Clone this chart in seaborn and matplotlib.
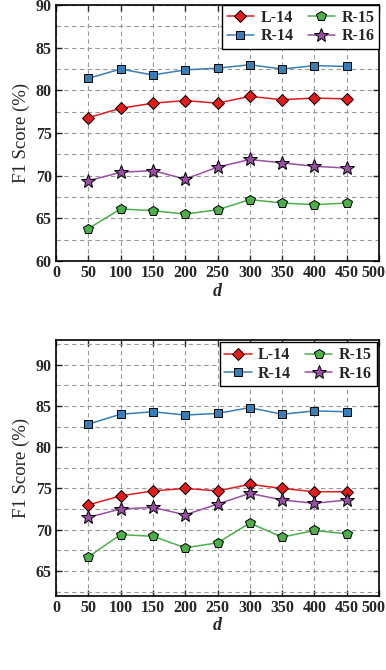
import numpy as np
import pandas as pd
import matplotlib
matplotlib.use("Agg")
import matplotlib.pyplot as plt
from matplotlib.ticker import MultipleLocator, FuncFormatter
import seaborn as sns

# data
d_values = [50, 100, 150, 200, 250, 300, 350, 400, 450]
models = ["L-14", "R-14", "R-15", "R-16"]

top_l14 = [76.8, 77.9, 78.5, 78.8, 78.5, 79.3, 78.9, 79.1, 79.0]
top_r14 = [81.4, 82.5, 81.8, 82.4, 82.6, 83.0, 82.5, 82.9, 82.8]
top_r15 = [63.8, 66.1, 65.9, 65.5, 66.0, 67.2, 66.8, 66.6, 66.8]
top_r16 = [69.4, 70.4, 70.6, 69.6, 71.0, 71.9, 71.5, 71.1, 70.9]

bot_l14 = [73.0, 74.1, 74.7, 75.0, 74.7, 75.5, 75.0, 74.6, 74.6]
bot_r14 = [82.8, 84.0, 84.3, 83.9, 84.1, 84.8, 84.0, 84.4, 84.3]
bot_r15 = [66.7, 69.4, 69.2, 67.8, 68.4, 70.8, 69.1, 69.9, 69.5]
bot_r16 = [71.5, 72.5, 72.7, 71.8, 73.1, 74.4, 73.6, 73.2, 73.6]

colors = {"L-14": "#e41a1c", "R-14": "#377eb8", "R-15": "#4daf4a", "R-16": "#984ea3"}
markers = {"L-14": "D", "R-14": "s", "R-15": "p", "R-16": "*"}
msizes = {"L-14": 6.5, "R-14": 6, "R-15": 7, "R-16": 10}


def to_long(series):
    rows = []
    for name, vals in zip(models, series):
        for d, v in zip(d_values, vals):
            rows.append({"d": d, "score": v, "model": name})
    return pd.DataFrame(rows)


sns.set_style("ticks")
plt.rcParams["font.family"] = ["Liberation Serif", "DejaVu Serif"]

fig = plt.figure(figsize=(3.86, 6.7), dpi=100)
ax1 = fig.add_axes([0.145, 0.6104, 0.837, 0.3821])
ax2 = fig.add_axes([0.145, 0.111, 0.837, 0.3815])

panels = [
    (ax1, [top_l14, top_r14, top_r15, top_r16], (60, 90), 0.0),
    (ax2, [bot_l14, bot_r14, bot_r15, bot_r16], (62, 93), 0.15),
]

# the 500 label is drawn separately so it stays inside the figure
xfmt = FuncFormatter(lambda v, pos: "" if v >= 500 else f"{v:.0f}")

for ax, series, ylim, pad in panels:
    df = to_long(series)
    for name in models:
        sub = df[df["model"] == name]
        sns.lineplot(data=sub, x="d", y="score", ax=ax, color=colors[name],
                     marker=markers[name], markersize=msizes[name],
                     markeredgecolor="black", markeredgewidth=0.7,
                     linewidth=1.1, label=name)
    ax.set_xlim(0, 500)
    ax.set_ylim(*ylim)
    ax.xaxis.set_major_locator(MultipleLocator(50))
    ax.xaxis.set_major_formatter(xfmt)
    ax.yaxis.set_major_locator(MultipleLocator(5))
    ax.yaxis.set_minor_locator(MultipleLocator(2.5))
    ax.grid(True, which="both", linestyle=(0, (4, 3)), color="#999999", linewidth=0.8)
    ax.tick_params(which="both", direction="in", top=True, right=True,
                   labelsize=11.5, length=4, width=1, pad=3)
    ax.tick_params(which="minor", length=0)
    for sp in ax.spines.values():
        sp.set_color("black")
        sp.set_linewidth(1.2)
    for lab in ax.get_xticklabels() + ax.get_yticklabels():
        lab.set_fontweight("bold")
    ax.annotate("500", xy=(500, 0), xycoords=ax.get_xaxis_transform(),
                xytext=(-6, -4.2), textcoords="offset pixels",
                ha="center", va="top", fontsize=11.5, fontweight="bold")
    ax.set_xlabel("d", fontsize=13, fontstyle="italic", fontweight="bold", labelpad=1)
    ax.set_ylabel("F1 Score (%)", fontsize=13.5, fontweight="normal", labelpad=4)
    leg = ax.legend(loc="upper right", ncol=2, fancybox=False, framealpha=1,
                    edgecolor="black", borderaxespad=pad,
                    prop={"size": 11.5, "weight": "bold"},
                    handlelength=1.7, columnspacing=0.9, handletextpad=0.4,
                    labelspacing=0.15, borderpad=0.3)
    leg.get_frame().set_linewidth(1.0)

fig.savefig("out.png", dpi=100)
